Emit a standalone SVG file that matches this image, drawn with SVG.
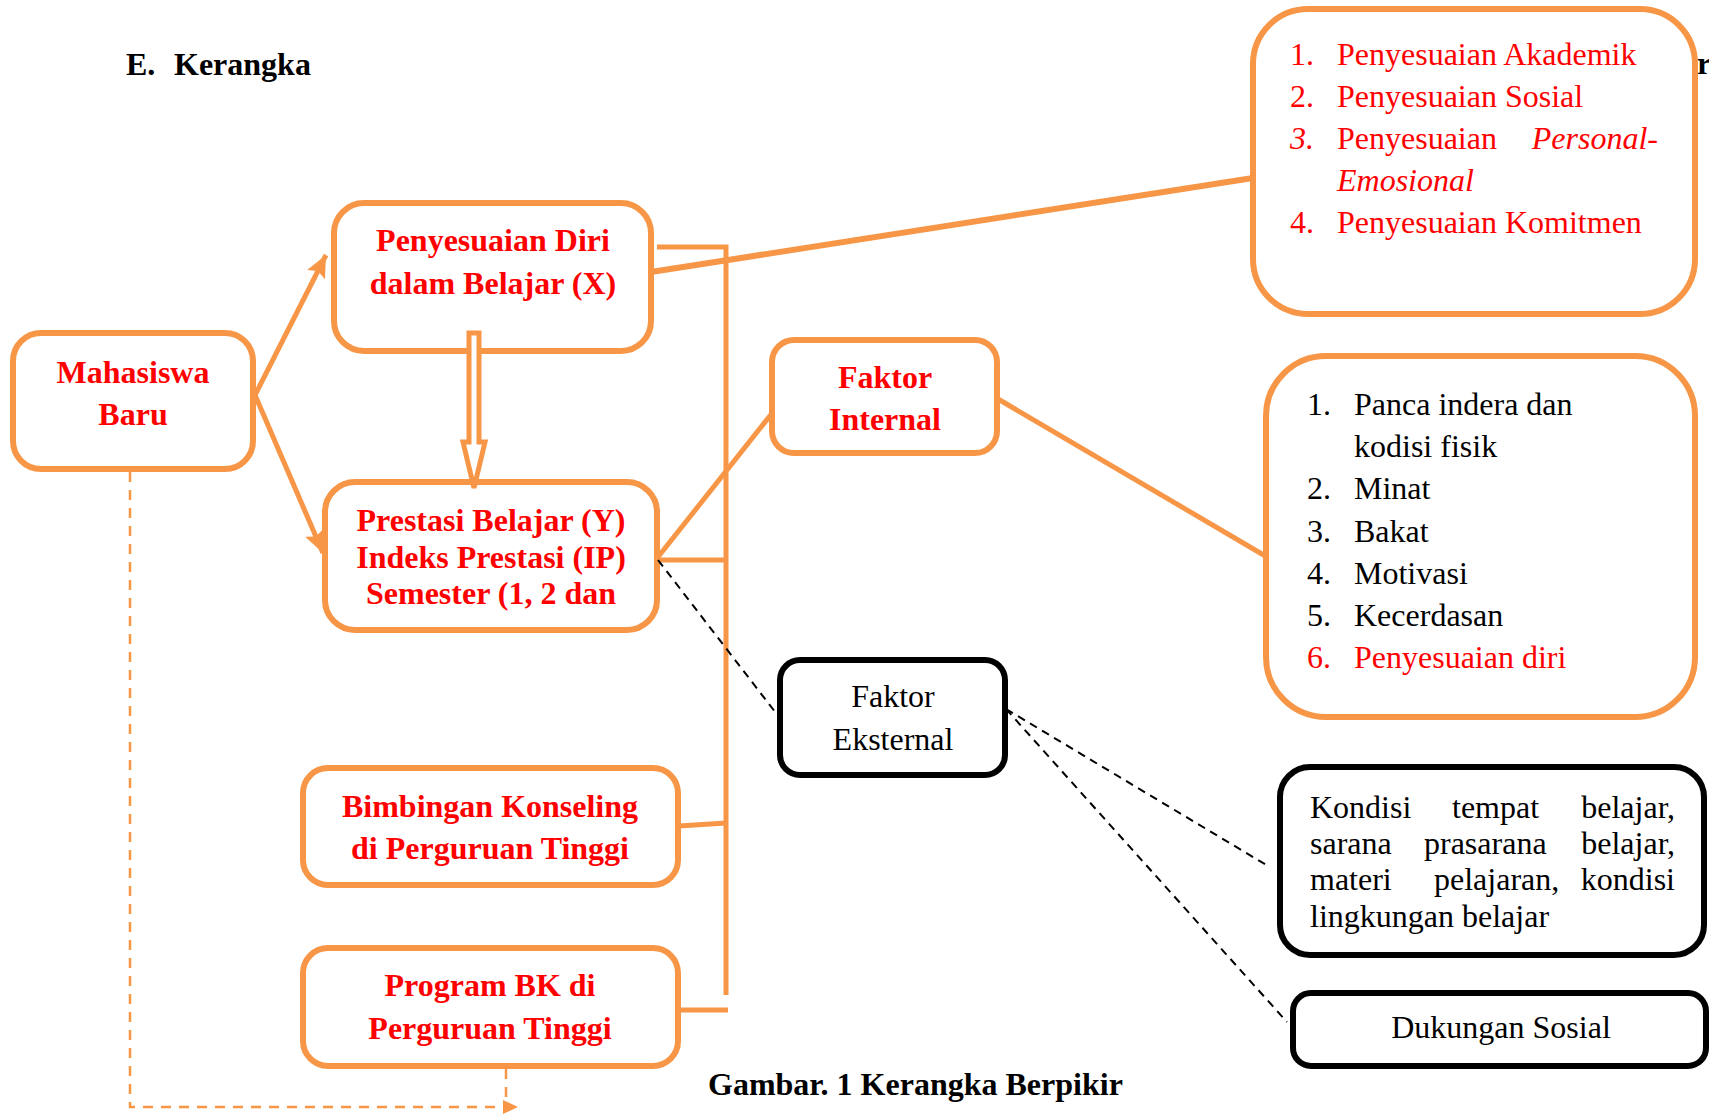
<svg xmlns="http://www.w3.org/2000/svg" width="1709" height="1114" viewBox="0 0 1709 1114">
<style>
text{font-family:"Liberation Serif","Times New Roman",serif;font-size:32px}
.b{font-weight:bold}
.r{fill:#FF0000}
.k{fill:#000000}
.i{font-style:italic}
.m{text-anchor:middle}
.e{text-anchor:end}
.ob{fill:#FFFFFF;stroke:#F79646;stroke-width:6}
.kb{fill:#FFFFFF;stroke:#000000;stroke-width:6}
.ol{fill:none;stroke:#F79646;stroke-width:5}
.od{fill:none;stroke:#F79646;stroke-width:2.5;stroke-dasharray:10 8}
.kd{fill:none;stroke:#000000;stroke-width:2;stroke-dasharray:8 6}
</style>
<defs>
<marker id="ah" markerUnits="userSpaceOnUse" markerWidth="24" markerHeight="22" refX="22" refY="10" orient="auto">
<path d="M0,0 L22,10 L0,20 L4,10 z" fill="#F79646"/>
</marker>
<marker id="ahs" markerUnits="userSpaceOnUse" markerWidth="16" markerHeight="16" refX="15" refY="7" orient="auto">
<path d="M0,0 L15,7 L0,14 z" fill="#F79646"/>
</marker>
</defs>
<rect width="1709" height="1114" fill="#FFFFFF"/>

<g id="title">
<text class="b k" x="126" y="75">E.</text>
<text class="b k" x="174" y="75">Kerangka</text>
</g>
<text class="b k" x="1697" y="74">r</text>

<g id="node-aspek">
<rect class="ob" x="1253" y="9" width="442" height="305" rx="55"/>
<text class="r" x="1290" y="65">1.</text><text class="r" x="1337" y="65">Penyesuaian Akademik</text>
<text class="r" x="1290" y="107">2.</text><text class="r" x="1337" y="107">Penyesuaian Sosial</text>
<text class="r i" x="1290" y="149">3.</text><text class="r" x="1337" y="149">Penyesuaian</text><text class="r i e" x="1658" y="149">Personal-</text>
<text class="r i" x="1337" y="191">Emosional</text>
<text class="r" x="1290" y="233">4.</text><text class="r" x="1337" y="233">Penyesuaian Komitmen</text>
</g>

<g id="node-mahasiswa">
<rect class="ob" x="13" y="333" width="240" height="136" rx="28"/>
<text class="b r m" x="133" y="383">Mahasiswa</text>
<text class="b r m" x="133" y="425">Baru</text>
</g>

<g id="node-penyesuaian">
<rect class="ob" x="334" y="203" width="317" height="148" rx="30"/>
<text class="b r m" x="493" y="251">Penyesuaian Diri</text>
<text class="b r m" x="493" y="294">dalam Belajar (X)</text>
</g>

<g id="node-prestasi">
<rect class="ob" x="325" y="482" width="332" height="148" rx="30"/>
<text class="b r m" x="491" y="531">Prestasi Belajar (Y)</text>
<text class="b r m" x="491" y="568">Indeks Prestasi (IP)</text>
<text class="b r m" x="491" y="604">Semester (1, 2 dan</text>
</g>

<g id="node-internal">
<rect class="ob" x="772" y="340" width="225" height="113" rx="22"/>
<text class="b r m" x="885" y="388">Faktor</text>
<text class="b r m" x="885" y="430">Internal</text>
</g>

<g id="node-internal-list">
<rect class="ob" x="1266" y="356" width="429" height="361" rx="60"/>
<text class="k" x="1307" y="415">1.</text><text class="k" x="1354" y="415">Panca indera dan</text>
<text class="k" x="1354" y="457">kodisi fisik</text>
<text class="k" x="1307" y="499">2.</text><text class="k" x="1354" y="499">Minat</text>
<text class="k" x="1307" y="542">3.</text><text class="k" x="1354" y="542">Bakat</text>
<text class="k" x="1307" y="584">4.</text><text class="k" x="1354" y="584">Motivasi</text>
<text class="k" x="1307" y="626">5.</text><text class="k" x="1354" y="626">Kecerdasan</text>
<text class="r" x="1307" y="668">6.</text><text class="r" x="1354" y="668">Penyesuaian diri</text>
</g>

<g id="node-eksternal">
<rect class="kb" x="780" y="660" width="225" height="115" rx="20"/>
<text class="k m" x="893" y="707">Faktor</text>
<text class="k m" x="893" y="750">Eksternal</text>
</g>

<g id="node-bimbingan">
<rect class="ob" x="303" y="768" width="375" height="117" rx="25"/>
<text class="b r m" x="490" y="817">Bimbingan Konseling</text>
<text class="b r m" x="490" y="859">di Perguruan Tinggi</text>
</g>

<g id="node-kondisi">
<rect class="kb" x="1280" y="767" width="424" height="188" rx="30"/>
<text class="k" x="1310" y="818">Kondisi</text><text class="k" x="1452" y="818">tempat</text><text class="k e" x="1675" y="818">belajar,</text>
<text class="k" x="1310" y="854">sarana</text><text class="k" x="1424" y="854">prasarana</text><text class="k e" x="1675" y="854">belajar,</text>
<text class="k" x="1310" y="890">materi</text><text class="k" x="1434" y="890">pelajaran,</text><text class="k e" x="1675" y="890">kondisi</text>
<text class="k" x="1310" y="927">lingkungan belajar</text>
</g>

<g id="node-program">
<rect class="ob" x="303" y="948" width="375" height="118" rx="25"/>
<text class="b r m" x="490" y="996">Program BK di</text>
<text class="b r m" x="490" y="1039">Perguruan Tinggi</text>
</g>

<g id="node-dukungan">
<rect class="kb" x="1293" y="993" width="413" height="73" rx="18"/>
<text class="k m" x="1501" y="1038">Dukungan Sosial</text>
</g>

<g id="connectors">
<line class="ol" x1="255" y1="395" x2="326" y2="255" marker-end="url(#ah)"/>
<line class="ol" x1="255" y1="395" x2="323" y2="553" marker-end="url(#ah)"/>
<line class="ol" x1="651" y1="272" x2="1253" y2="178" style="stroke-width:6"/>
<polyline class="ol" points="657,247 726,247 726,995"/>
<line class="ol" x1="657" y1="560" x2="726" y2="560"/>
<line class="ol" x1="679" y1="826" x2="726" y2="823"/>
<line class="ol" x1="679" y1="1010" x2="728" y2="1010"/>
<line class="ol" x1="658" y1="557" x2="773" y2="412"/>
<line class="ol" x1="998" y1="399" x2="1267" y2="557"/>
<polygon points="469,333 479,333 479,442 485,442 474,488 463,442 469,442" fill="#FFFFFF" stroke="#F79646" stroke-width="5"/>
<line class="kd" x1="658" y1="560" x2="779" y2="717"/>
<line class="kd" x1="1006" y1="709" x2="1268" y2="866"/>
<line class="kd" x1="1006" y1="709" x2="1287" y2="1022"/>
<polyline class="od" points="130,472 130,1107 518,1107" marker-end="url(#ahs)"/>
<line class="od" x1="506" y1="1069" x2="506" y2="1100"/>
</g>

<g id="caption">
<text class="b k" x="708" y="1095">Gambar. 1 Kerangka Berpikir</text>
</g>
</svg>
